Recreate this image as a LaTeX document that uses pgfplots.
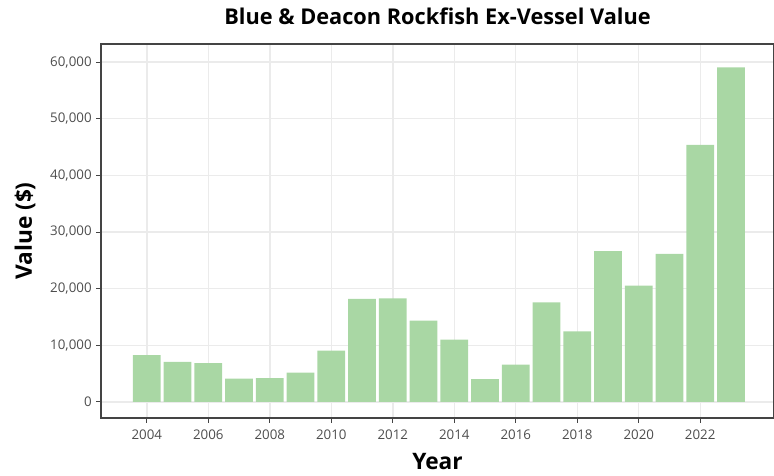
\documentclass[border=0pt]{standalone}
\usepackage{fontspec}
\setmainfont{Open Sans}
\usepackage{pgfplots}
\pgfplotsset{compat=1.18}
\definecolor{barfill}{HTML}{A9D7A4}
\definecolor{gridc}{HTML}{EBEBEB}
\definecolor{tickc}{HTML}{4D4D4D}
\definecolor{framec}{HTML}{444444}
\begin{document}
\begin{tikzpicture}
\useasboundingbox (-75.75pt,-42.75pt) rectangle (504.75pt,313.5pt);
\begin{axis}[
  at={(0,0)}, anchor=south west,
  width=504.75pt, height=280.5pt, scale only axis,
  xmin=2002.51, xmax=2024.4,
  ymin=-2850, ymax=63200,
  xtick={2004,2006,...,2022},
  ytick={0,10000,...,60000},
  grid=major,
  major grid style={draw=gridc, line width=1.1pt},
  axis line style={draw=framec, line width=0.8pt},
  tick style={draw=framec, line width=0.6pt},
  tick align=outside, tickwidth=3.5pt,
  xtick pos=bottom, ytick pos=left,
  /pgf/number format/assume math mode=true,
  ticklabel style={font=\fontsize{10pt}{12pt}\selectfont, text=tickc},
  xticklabel style={/pgf/number format/1000 sep={}, yshift=-2pt},
  yticklabel style={/pgf/number format/1000 sep={,}, /pgf/number format/fixed},
  scaled y ticks=false,
  xlabel={Year}, ylabel={Value (\$)},
  label style={font=\fontsize{17pt}{19pt}\selectfont\bfseries},
  xlabel style={at={(axis description cs:0.5,0)}, anchor=center, yshift=-33pt},
  ylabel style={at={(axis description cs:-0.113,0.5)}, anchor=center},
  title={Blue \& Deacon Rockfish Ex-Vessel Value},
  title style={font=\fontsize{16.3pt}{18pt}\selectfont\bfseries, at={(axis description cs:0.5,1)}, anchor=center, yshift=14.5pt},
]
\addplot[ybar, bar width=0.9, bar shift=0pt, fill=barfill, draw=none] coordinates {
(2004,8250) (2005,7080) (2006,6840) (2007,4090) (2008,4210) (2009,5150)
(2010,9060) (2011,18190) (2012,18270) (2013,14340) (2014,10990) (2015,4000)
(2016,6580) (2017,17570) (2018,12460) (2019,26620) (2020,20510) (2021,26150)
(2022,45370) (2023,59060)
};
\end{axis}
\end{tikzpicture}
\end{document}
